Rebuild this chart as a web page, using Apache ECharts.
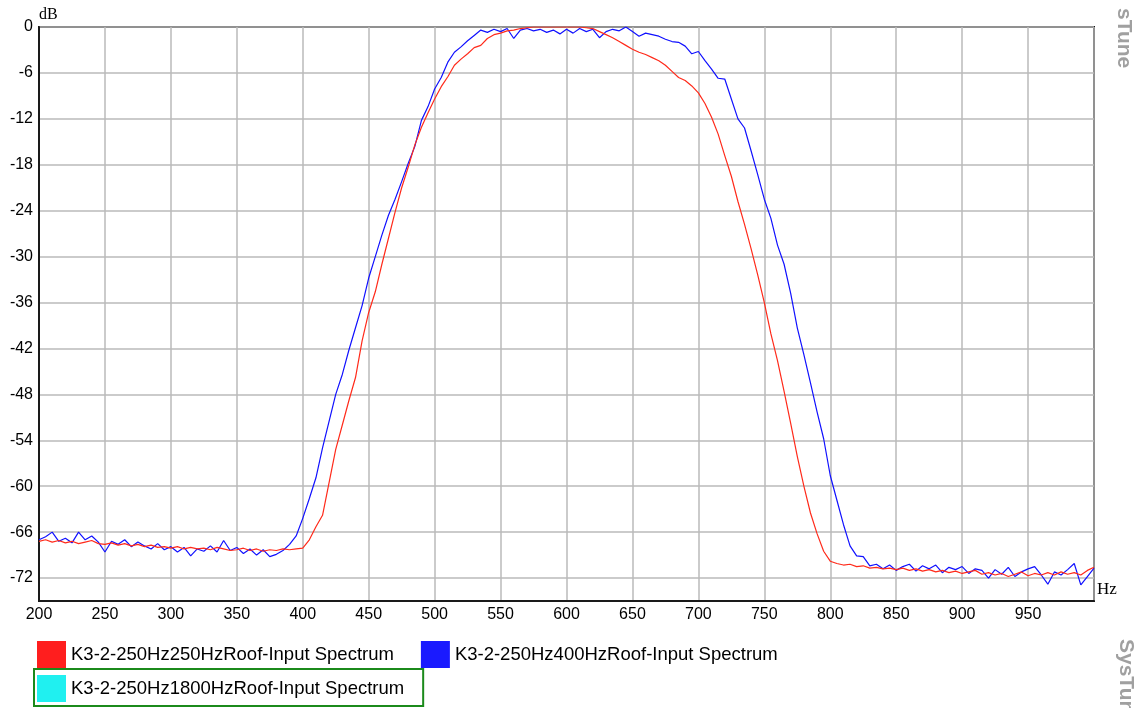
<!DOCTYPE html>
<html>
<head>
<meta charset="utf-8">
<script src="https://cdn.jsdelivr.net/npm/echarts@6/dist/echarts.min.js"></script>
<style>
  html, body { margin: 0; padding: 0; background: #fff; }
  #main { width: 1136px; height: 708px; }
</style>
</head>
<body>
<div id="main"></div>
<script>
const FREQ_START = 200;
const FREQ_STEP = 5;

const xTicks = [200, 250, 300, 350, 400, 450, 500, 550, 600, 650, 700, 750, 800, 850, 900, 950];
const yTicks = [0, -6, -12, -18, -24, -30, -36, -42, -48, -54, -60, -66, -72];

const seriesNames = [
    'K3-2-250Hz250HzRoof-Input Spectrum',
    'K3-2-250Hz400HzRoof-Input Spectrum',
    'K3-2-250Hz1800HzRoof-Input Spectrum'
];

const roof250 = [
    -67.2, -67.0, -67.3, -67.1, -67.4, -67.2, -67.5, -67.3, -67.1, -67.5,
    -67.6, -67.4, -67.7, -67.5, -67.8, -67.6, -67.9, -67.7, -68.0, -67.9,
    -68.1, -67.9, -68.2, -68.0, -68.2, -68.1, -68.3, -68.0, -68.2, -68.4,
    -68.3, -68.1, -68.4, -68.2, -68.5, -68.3, -68.4, -68.2, -68.3, -68.2,
    -68.1, -67.0, -65.3, -63.8, -59.5, -55.2, -52.0, -48.8, -45.8, -41.0,
    -37.3, -34.6, -31.0, -27.6, -24.2, -21.0, -18.3, -15.4, -13.1, -11.2,
    -9.4, -7.8, -6.5, -5.0, -4.2, -3.5, -2.7, -2.4, -1.5, -1.0,
    -0.8, -0.5, -0.4, -0.2, -0.1, 0.0, 0.0, 0.0, 0.0, 0.0,
    0.0, 0.0, 0.0, -0.1, -0.2, -0.6, -1.0, -1.4, -1.9, -2.4,
    -2.9, -3.3, -3.6, -4.0, -4.4, -5.0, -5.8, -6.6, -7.0, -7.7,
    -8.6, -10.0, -11.8, -14.0, -16.8, -19.5, -22.8, -25.8, -29.0, -32.4,
    -36.0, -40.1, -43.6, -47.6, -51.8, -56.1, -60.0, -63.5, -66.2, -68.5,
    -69.8, -70.1, -70.3, -70.2, -70.5, -70.4, -70.7, -70.6, -70.8, -70.7,
    -70.9, -70.7, -71.0, -70.8, -71.1, -70.9, -71.2, -71.0, -71.3, -71.1,
    -71.4, -71.2, -71.0, -71.5, -71.3, -71.6, -71.4, -71.8, -71.5, -71.2,
    -71.7, -71.4, -71.6, -71.3, -71.6, -71.2, -71.5, -71.3, -71.6, -71.0,
    -70.6
];

const roof400 = [
    -67.0, -66.6, -66.0, -67.2, -66.8, -67.4, -66.0, -67.0, -66.5, -67.3,
    -68.6, -67.2, -67.6, -67.0, -67.9, -67.3, -67.8, -68.2, -67.5, -68.3,
    -67.9, -68.6, -68.0, -69.1, -68.2, -68.5, -67.8, -68.6, -67.1, -68.4,
    -68.0, -68.8, -68.2, -69.0, -68.3, -69.2, -68.9, -68.4, -67.6, -66.5,
    -64.2, -61.6, -58.9, -55.0, -51.5, -48.0, -45.4, -42.2, -39.3, -36.4,
    -32.8, -30.0, -27.2, -24.6, -22.5, -20.2, -17.8, -15.6, -12.2, -10.4,
    -8.1, -6.6, -4.6, -3.3, -2.6, -1.8, -1.1, -0.4, -0.7, -0.3,
    -0.6, -0.2, -1.5, -0.4, -0.2, -0.5, -0.3, -0.7, -0.4, -0.9,
    -0.3, -0.8, -0.2, -0.6, -0.3, -1.4, -0.6, -0.3, -0.5, 0.0,
    -0.6, -1.2, -0.8, -1.0, -1.2, -1.6, -1.9, -2.0, -2.5, -3.5,
    -3.2, -4.4, -5.5, -6.7, -6.8, -9.4, -12.0, -13.2, -16.2, -19.3,
    -22.5, -25.0, -28.5, -31.0, -34.8, -39.3, -42.8, -46.5, -50.3, -53.8,
    -58.6, -61.8, -65.0, -67.8, -69.1, -69.2, -70.4, -70.2, -70.8, -70.3,
    -71.0, -70.5, -70.2, -71.1, -70.4, -70.8, -70.3, -71.3, -70.6, -70.9,
    -70.5, -71.4, -70.8, -71.0, -72.0, -70.9, -71.5, -70.6, -71.8, -71.2,
    -70.8, -70.5, -71.6, -72.8, -71.2, -71.6, -70.9, -70.1, -72.9, -71.8,
    -70.7
];

const roof1800 = [];

const FONT = "'Liberation Sans', Arial, sans-serif";

// y axis is drawn inverted (attenuation) so the 6 dB ticks start at 0
function toPairs(values) {
    return values.map((v, i) => [FREQ_START + i * FREQ_STEP, -v]);
}

let chart = echarts.init(document.getElementById('main'));

chart.setOption({
    animation: false,
    backgroundColor: '#ffffff',
    grid: {
        left: 39, right: 42, top: 27, bottom: 107,
        show: true,
        borderColor: '#1a1a1a',
        borderWidth: 2,
        backgroundColor: '#ffffff'
    },
    xAxis: {
        type: 'value',
        min: 200, max: 1000, interval: 50,
        name: 'Hz',
        nameLocation: 'end',
        nameGap: 3,
        nameTextStyle: {
            fontFamily: "'Liberation Serif', serif", fontSize: 17, color: '#000',
            verticalAlign: 'bottom', align: 'left', padding: [0, 0, 3, 0]
        },
        axisLine: { onZero: false, lineStyle: { color: '#1a1a1a', width: 2 } },
        axisTick: { show: false },
        axisLabel: {
            color: '#000', fontFamily: FONT, fontSize: 16, margin: 6,
            showMaxLabel: false,
            formatter: v => xTicks.includes(v) ? String(v) : ''
        },
        splitLine: { lineStyle: { color: '#bababa', width: 1.5 } }
    },
    yAxis: {
        type: 'value',
        inverse: true,
        min: 0, max: 75, interval: 6,
        name: 'dB',
        nameLocation: 'start',
        nameGap: 4,
        nameTextStyle: {
            fontFamily: "'Liberation Serif', serif", fontSize: 16, color: '#000',
            align: 'left', verticalAlign: 'bottom'
        },
        axisLine: { onZero: false, lineStyle: { color: '#1a1a1a', width: 2 } },
        axisTick: { show: false },
        axisLabel: {
            color: '#000', fontFamily: FONT, fontSize: 16, margin: 6,
            showMaxLabel: false,
            formatter: v => yTicks.includes(-v) ? String(-v) : ''
        },
        splitLine: { lineStyle: { color: '#bababa', width: 1.5 } }
    },
    legend: [{
        data: [seriesNames[0], seriesNames[1]],
        left: 37, top: 641,
        padding: 0,
        icon: 'rect',
        itemWidth: 29, itemHeight: 27, itemGap: 27,
        textStyle: { fontFamily: FONT, fontSize: 18.5, color: '#000' }
    }, {
        data: [seriesNames[2]],
        left: 34, top: 669,
        padding: [6, 19, 4, 3],
        borderColor: '#1b8a1b',
        borderWidth: 2,
        icon: 'rect',
        itemWidth: 29, itemHeight: 27,
        textStyle: { fontFamily: FONT, fontSize: 18.5, color: '#000' }
    }],
    graphic: [{
        type: 'text',
        x: 1124, y: 8,
        rotation: -Math.PI / 2,
        style: {
            text: 'sTune', fill: '#a0a0a0',
            font: "bold 21px 'Liberation Sans', sans-serif",
            align: 'left', verticalAlign: 'middle'
        }
    }, {
        type: 'text',
        x: 1126, y: 639,
        rotation: -Math.PI / 2,
        style: {
            text: 'SysTune', fill: '#a0a0a0',
            font: "bold 21px 'Liberation Sans', sans-serif",
            align: 'left', verticalAlign: 'middle'
        }
    }],
    series: [{
        name: seriesNames[0],
        type: 'line',
        data: toPairs(roof250),
        color: '#ff1e1e',
        showSymbol: false,
        z: 4,
        lineStyle: { width: 1.2, color: '#ff2a1a' }
    }, {
        name: seriesNames[1],
        type: 'line',
        data: toPairs(roof400),
        color: '#1a1aff',
        showSymbol: false,
        z: 3,
        lineStyle: { width: 1.2, color: '#1010ff' }
    }, {
        name: seriesNames[2],
        type: 'line',
        data: toPairs(roof1800),
        color: '#20f0f0',
        showSymbol: false,
        z: 2,
        lineStyle: { width: 1.2 }
    }]
});
</script>
</body>
</html>
